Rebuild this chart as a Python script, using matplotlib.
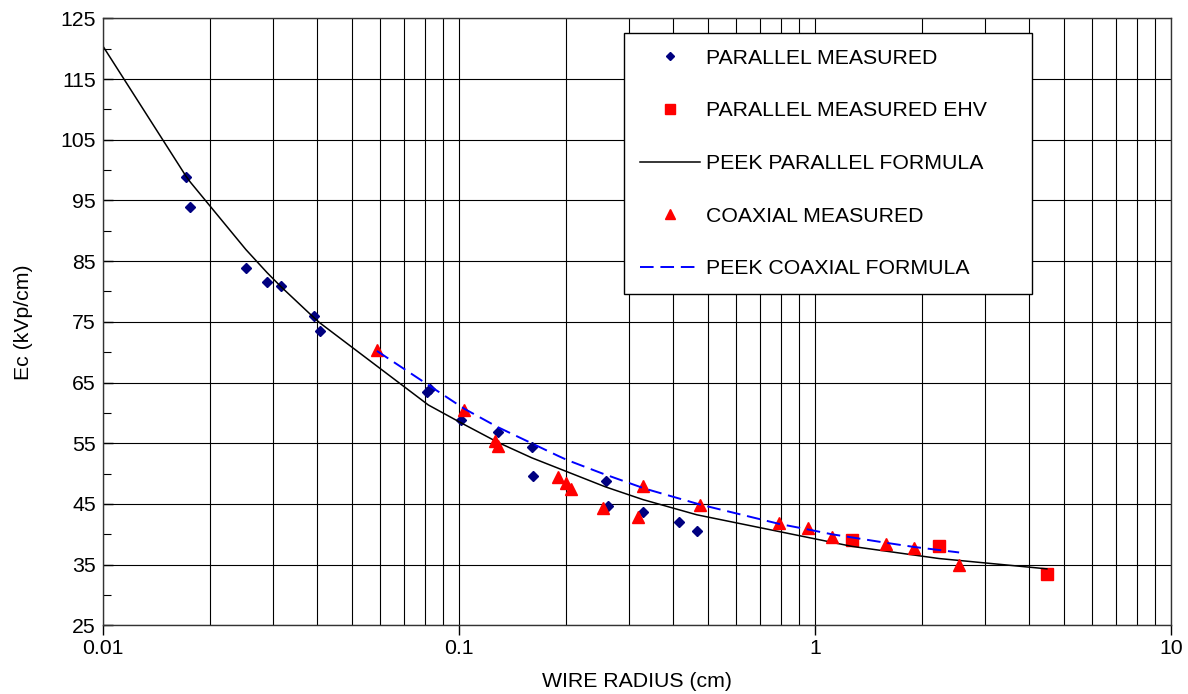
import matplotlib
matplotlib.use("Agg")
import matplotlib.pyplot as plt
from matplotlib.ticker import FixedLocator, NullFormatter

plt.rcParams['font.family'] = ['Liberation Sans', 'DejaVu Sans']

# parallel wire measurements (navy diamonds)
par_r = [0.0171, 0.0176, 0.0252, 0.0289, 0.0316, 0.0391, 0.0407, 0.0815, 0.0830,
         0.1013, 0.129, 0.160, 0.161, 0.258, 0.262, 0.329, 0.415, 0.466]
par_ec = [98.9, 93.9, 83.9, 81.6, 80.9, 76.0, 73.5, 63.5, 64.0,
          58.9, 56.9, 54.3, 49.6, 48.8, 44.7, 43.7, 42.1, 40.5]

# EHV parallel measurements (red squares)
ehv_r = [1.27, 2.23, 4.48]
ehv_ec = [39.1, 38.0, 33.5]

# coaxial measurements (red triangles)
coax_r = [0.0588, 0.1033, 0.126, 0.129, 0.190, 0.200, 0.206, 0.253, 0.319, 0.329,
          0.475, 0.794, 0.954, 1.114, 1.58, 1.90, 2.54]
coax_ec = [70.4, 60.5, 55.4, 54.6, 49.5, 48.4, 47.4, 44.4, 42.9, 47.9,
           44.8, 41.8, 41.1, 39.5, 38.4, 37.7, 34.9]

# Peek parallel curve
peek_par_r = [0.01, 0.0171, 0.0176, 0.0252, 0.0289, 0.0316, 0.0391, 0.0407, 0.082,
              0.101, 0.129, 0.160, 0.258, 0.329, 0.466, 1.27, 2.23, 4.48]
peek_par_ec = [120.4, 99.0, 98.0, 86.9, 83.1, 80.8, 75.7, 74.8, 61.3,
               58.4, 55.1, 52.6, 47.8, 45.7, 43.2, 38.0, 36.0, 34.3]

# Peek coaxial curve
peek_coax_r = [0.0588, 0.1033, 0.128, 0.190, 0.200, 0.206, 0.253, 0.319, 0.329,
               0.475, 0.794, 0.954, 1.114, 1.58, 1.90, 2.54]
peek_coax_ec = [70.2, 60.7, 57.7, 52.9, 52.3, 52.0, 50.0, 47.9, 47.6,
                44.9, 41.7, 40.8, 40.0, 38.6, 37.9, 37.0]

y_ticks = [25, 35, 45, 55, 65, 75, 85, 95, 105, 115, 125]
y_minor = [30, 40, 50, 60, 70, 80, 90, 100, 110, 120]
x_ticks = [0.01, 0.1, 1, 10]
x_tick_labels = ['0.01', '0.1', '1', '10']

fs = 15.3

fig = plt.figure(figsize=(11.88, 6.94), dpi=100)
ax = fig.add_axes([0.0867, 0.099, 0.8990, 0.8746])

ax.set_xscale('log')
ax.set_xlim(0.01, 10)
ax.set_ylim(25, 125)

# grid: every decade subdivision vertically, every 10 horizontally
x_minor = [m * d for d in (0.01, 0.1, 1) for m in range(2, 10)]
ax.xaxis.set_major_locator(FixedLocator(x_ticks))
ax.xaxis.set_minor_locator(FixedLocator(x_minor))
ax.xaxis.set_minor_formatter(NullFormatter())
ax.set_xticklabels(x_tick_labels)
ax.yaxis.set_major_locator(FixedLocator(y_ticks))
ax.yaxis.set_minor_locator(FixedLocator(y_minor))

ax.grid(True, which='major', axis='both', color='black', lw=0.8)
ax.grid(True, which='minor', axis='x', color='black', lw=0.8)
ax.set_axisbelow(True)

ax.tick_params(axis='y', which='major', direction='in', length=7, width=1, pad=5, labelsize=fs)
ax.tick_params(axis='y', which='minor', direction='in', length=6, width=0.8)
ax.tick_params(axis='x', which='major', direction='out', length=7, width=1, pad=3, labelsize=fs)
ax.tick_params(axis='x', which='minor', length=0)
for s in ax.spines.values():
    s.set_linewidth(1.0)
    s.set_color('#333333')

ax.plot(par_r, par_ec, 'D', color='#000080', ms=5.3, mew=1, ls='none', label='PARALLEL MEASURED')
ax.plot(ehv_r, ehv_ec, 's', color='#ff0000', ms=8.4, mew=1, ls='none', label='PARALLEL MEASURED EHV')
ax.plot(peek_par_r, peek_par_ec, '-', color='black', lw=1.1, label='PEEK PARALLEL FORMULA')
ax.plot(coax_r, coax_ec, '^', color='#ff0000', ms=8.4, mew=1, ls='none', label='COAXIAL MEASURED')
ax.plot(peek_coax_r, peek_coax_ec, '--', color='#0000ff', lw=1.4, dashes=(7, 3.5),
        label='PEEK COAXIAL FORMULA')

leg = ax.legend(loc='upper left', bbox_to_anchor=(0.488, 0.976, 0.382, 0.0), mode='expand',
                fontsize=fs, frameon=True, fancybox=False, framealpha=1, edgecolor='black',
                handlelength=2.82, handletextpad=0.28, borderpad=0.75, labelspacing=1.58,
                borderaxespad=0, markerscale=0.8)
leg.get_frame().set_linewidth(1.0)

ax.set_xlabel('WIRE RADIUS (cm)', fontsize=fs, labelpad=10)
ax.set_ylabel('Ec (kVp/cm)', fontsize=fs, labelpad=20)

fig.savefig('out.png', dpi=100)
